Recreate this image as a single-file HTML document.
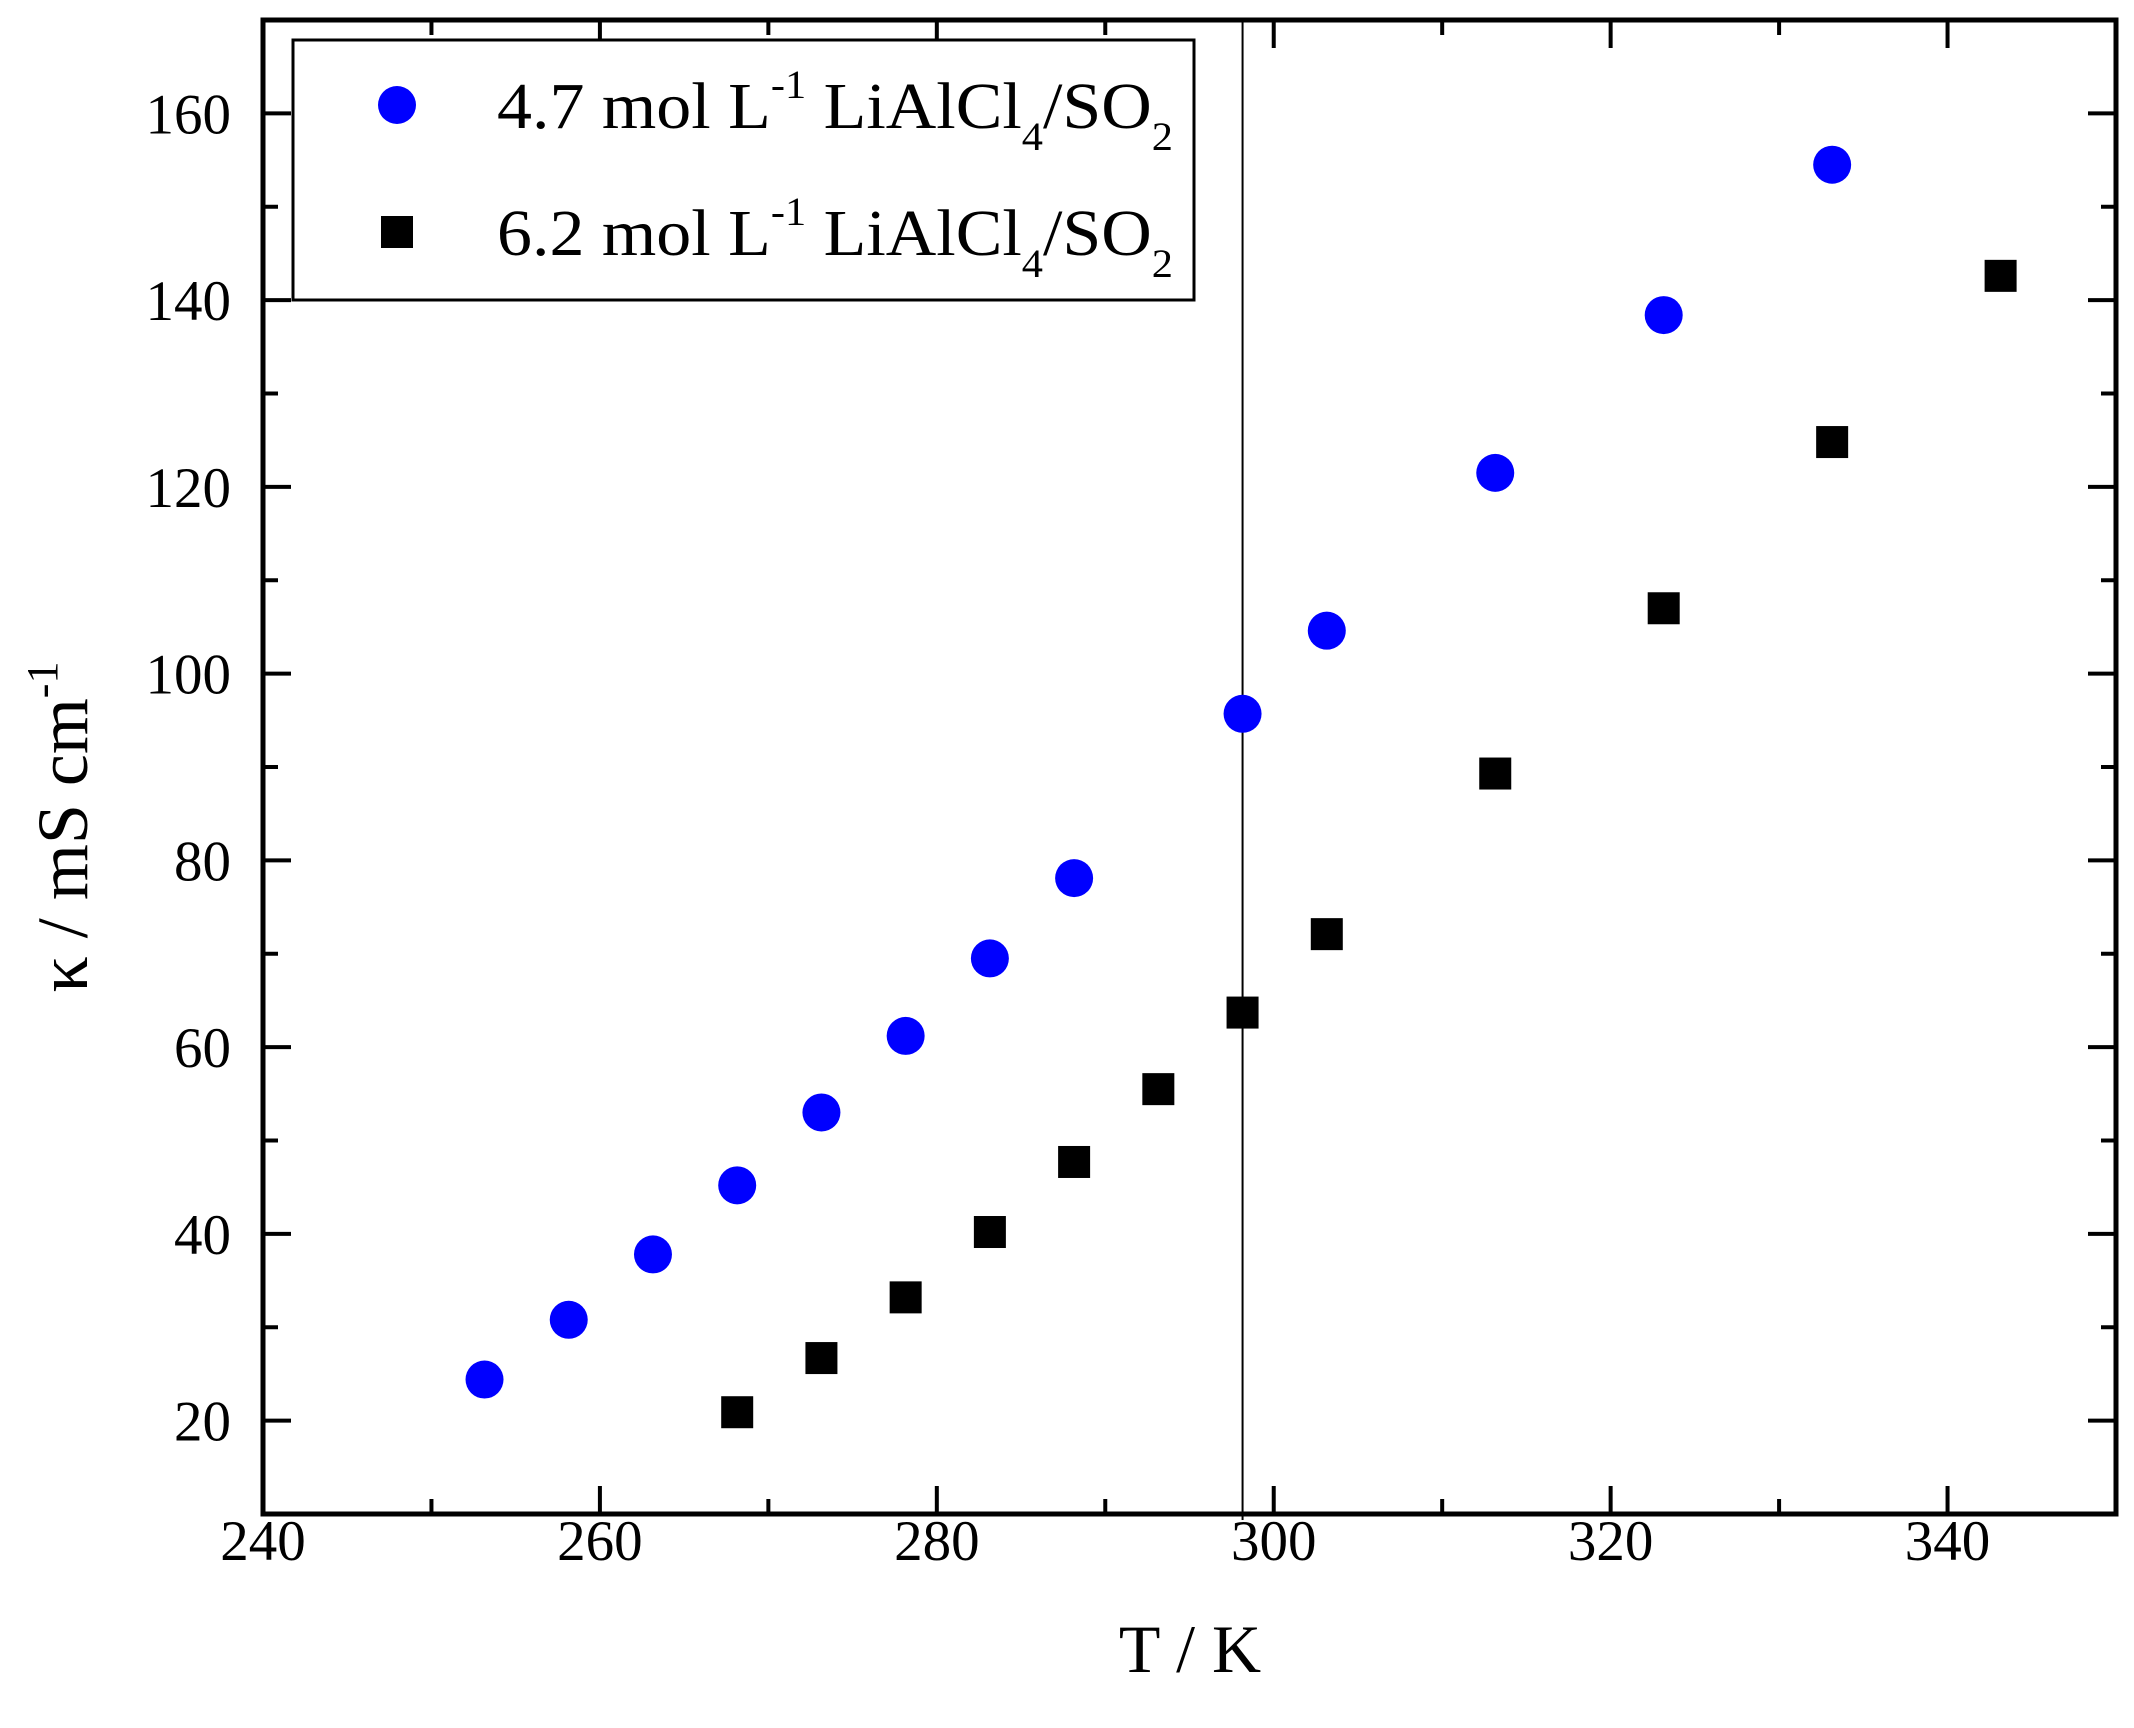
<!DOCTYPE html>
<html><head><meta charset="utf-8"><style>
html,body{margin:0;padding:0;background:#fff;}
svg{display:block;font-family:"Liberation Serif",serif;}
</style></head><body>
<svg id="chart" width="2134" height="1728" viewBox="0 0 2134 1728" xmlns="http://www.w3.org/2000/svg">
<g id="grid"></g>
<g id="marks"></g>
<g id="axes"></g>
<g>
  <rect x="293" y="40" width="901" height="260" fill="#fff" stroke="#000" stroke-width="3"/>
  <circle cx="397" cy="105" r="19" fill="#0000ff"/>
  <text x="497" y="128" font-size="66" textLength="676" lengthAdjust="spacingAndGlyphs">4.7 mol L<tspan dy="-30" font-size="40">-1</tspan><tspan dy="30"> LiAlCl</tspan><tspan dy="22" font-size="40">4</tspan><tspan dy="-22">/SO</tspan><tspan dy="22" font-size="40">2</tspan></text>
  <rect x="381" y="216" width="32" height="32" fill="#000"/>
  <text x="497" y="255" font-size="66" textLength="676" lengthAdjust="spacingAndGlyphs">6.2 mol L<tspan dy="-30" font-size="40">-1</tspan><tspan dy="30"> LiAlCl</tspan><tspan dy="22" font-size="40">4</tspan><tspan dy="-22">/SO</tspan><tspan dy="22" font-size="40">2</tspan></text>
</g>
<text x="1190" y="1672" font-size="68" text-anchor="middle">T / K</text>
<text transform="translate(87,827) rotate(-90)" font-size="72" text-anchor="middle">κ / mS cm<tspan dy="-30" font-size="44">-1</tspan></text>
<script>
const xTicks = [240, 260, 280, 300, 320, 340];
const yTicks = [20, 40, 60, 80, 100, 120, 140, 160];
const refT = [298.15];
const tempsA = [253.15, 258.15, 263.15, 268.15, 273.15, 278.15, 283.15, 288.15, 298.15, 303.15, 313.15, 323.15, 333.15];
const kappaA = [24.4, 30.8, 37.8, 45.2, 53.0, 61.2, 69.5, 78.1, 95.7, 104.6, 121.5, 138.4, 154.5];
const tempsB = [268.15, 273.15, 278.15, 283.15, 288.15, 293.15, 298.15, 303.15, 313.15, 323.15, 333.15, 343.15];
const kappaB = [20.9, 26.7, 33.2, 40.2, 47.7, 55.5, 63.7, 72.1, 89.3, 107.0, 124.8, 142.6];

const L=263,R=2116,T=20,B=1514;
const xMin=240,xMax=350,yMin=10,yMax=170;
const sx=v=>L+(v-xMin)/(xMax-xMin)*(R-L);
const sy=v=>B-(v-yMin)/(yMax-yMin)*(B-T);
const NS="http://www.w3.org/2000/svg";
function mk(tag,attrs,parent){const e=document.createElementNS(NS,tag);for(const k in attrs)e.setAttribute(k,attrs[k]);parent.appendChild(e);return e;}
const marks=document.getElementById('marks'), axes=document.getElementById('axes');

refT.forEach(t=>{
  const l=mk('line',{x1:sx(t),x2:sx(t),y1:T,y2:B+6,stroke:'#000','stroke-width':2},marks);
  
  
});
tempsA.forEach((t,i)=>{
  const c=mk('circle',{cx:sx(t),cy:sy(kappaA[i]),r:19,fill:'#0000ff'},marks);
  
  
});
tempsB.forEach((t,i)=>{
  const s=mk('rect',{x:sx(t)-16,y:sy(kappaB[i])-16,width:32,height:32,fill:'#000'},marks);
  
  
});

const frame=mk('rect',{x:L,y:T,width:R-L,height:B-T,fill:'none',stroke:'#000','stroke-width':5},axes);



for(let v=xMin; v<=xMax; v+=10){
  const major=(v%20===0), len=major?28:15, x=sx(v);
  mk('line',{x1:x,x2:x,y1:B,y2:B-len,stroke:'#000','stroke-width':4},axes);
  mk('line',{x1:x,x2:x,y1:T,y2:T+len,stroke:'#000','stroke-width':4},axes);
}
for(let v=yMin; v<=yMax; v+=10){
  const major=(v%20===0), len=major?28:15, y=sy(v);
  mk('line',{x1:L,x2:L+len,y1:y,y2:y,stroke:'#000','stroke-width':4},axes);
  mk('line',{x1:R,x2:R-len,y1:y,y2:y,stroke:'#000','stroke-width':4},axes);
}
xTicks.forEach(v=>{
  const t=mk('text',{x:sx(v),y:1560,'font-size':57,'text-anchor':'middle'},axes);
  t.textContent=v;
  
  
});
yTicks.forEach(v=>{
  const t=mk('text',{x:231,y:sy(v)+20,'font-size':57,'text-anchor':'end'},axes);
  t.textContent=v;
  
  
});
</script>
</svg>
</body></html>
